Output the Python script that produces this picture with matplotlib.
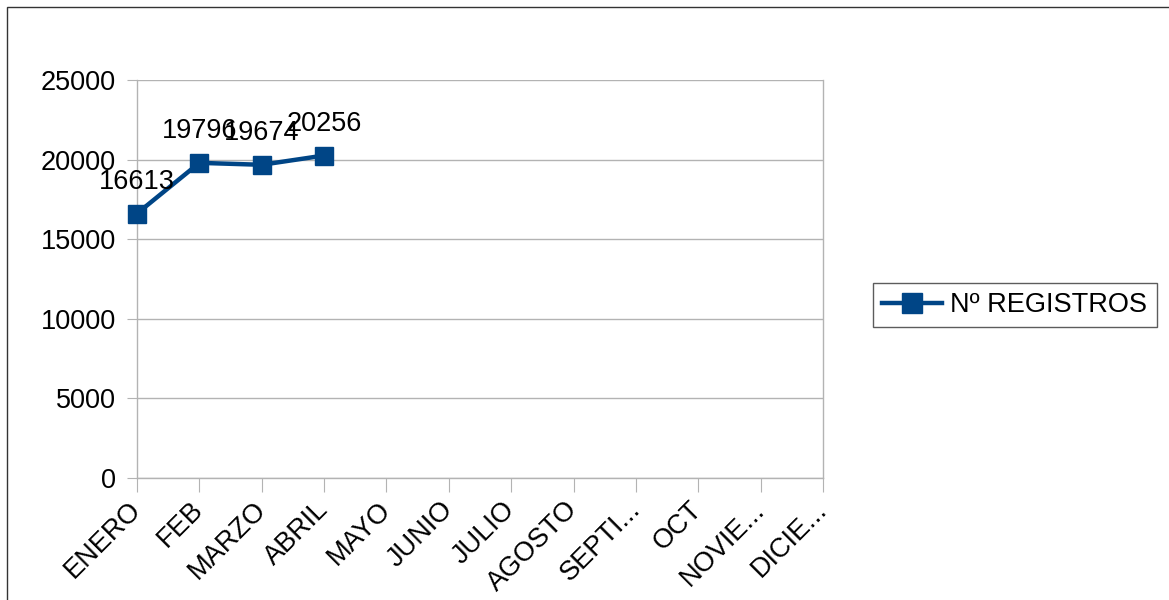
import matplotlib
matplotlib.use("Agg")
import matplotlib.pyplot as plt
from matplotlib.patches import Rectangle

# Datos del gráfico
meses = ["ENERO", "FEB", "MARZO", "ABRIL", "MAYO", "JUNIO", "JULIO",
         "AGOSTO", "SEPTI...", "OCT", "NOVIE...", "DICIE..."]
registros = [16613, 19796, 19674, 20256]
y_ticks = [0, 5000, 10000, 15000, 20000, 25000]

plt.rcParams['font.family'] = ['Liberation Sans', 'DejaVu Sans']
azul = '#004586'
gris = '#b3b3b3'
fs = 19.5

fig = plt.figure(figsize=(11.69, 6.0), dpi=100)
ax = fig.add_axes([137/1169, 1 - 478/600, (823 - 137)/1169, (478 - 80)/600])

# marco exterior
fig.patches.append(Rectangle((7/1169, -0.05), 1.1, 1 - 7/600 + 0.05,
                             transform=fig.transFigure, fill=False,
                             edgecolor='#333333', linewidth=1.0))

x = list(range(len(registros)))
ax.plot(x, registros, color=azul, linewidth=3.2, marker='s', markersize=13,
        label='Nº REGISTROS', zorder=5, clip_on=False)
for xi, v in zip(x, registros):
    ax.annotate(str(v), (xi, v), xytext=(0, 23), textcoords='offset points',
                ha='center', va='center', fontsize=fs, color='black', zorder=6)

ax.set_xlim(0, len(meses) - 1)
ax.set_ylim(0, 25000)
ax.set_yticks(y_ticks)
ax.set_yticklabels([str(t) for t in y_ticks], fontsize=fs)
ax.set_xticks(range(len(meses)))
ax.set_xticklabels(meses, rotation=45, ha='right', va='center',
                   rotation_mode='anchor', fontsize=fs)
ax.tick_params(axis='x', length=10, color=gris, pad=10)
ax.tick_params(axis='y', length=7, color=gris, pad=8)
ax.grid(axis='y', color=gris, linewidth=1)
for s in ax.spines.values():
    s.set_color(gris)
    s.set_linewidth(1)
ax.spines['top'].set_visible(False)

leg = fig.legend(loc='center left', bbox_to_anchor=(873/1169, 1 - 305/600),
                 fontsize=fs, frameon=True, fancybox=False, handlelength=2.2,
                 borderpad=0.35, handletextpad=0.3, borderaxespad=0,
                 markerscale=1.1)
leg.get_frame().set_edgecolor('#333333')
leg.get_frame().set_linewidth(1)

fig.savefig('out.png', dpi=100)
